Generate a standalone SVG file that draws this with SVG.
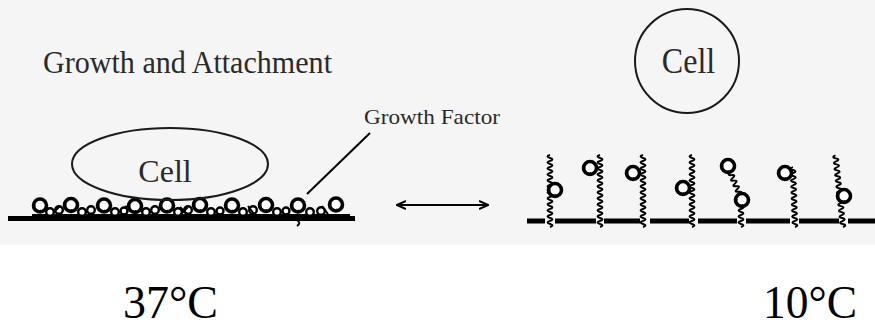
<svg xmlns="http://www.w3.org/2000/svg" width="875" height="329" viewBox="0 0 875 329">
  <style>
    .lbl { font-family: "Liberation Serif", "Times New Roman", serif; fill: #2a2a2a; }
    .temp { font-family: "Liberation Serif", "Times New Roman", serif; fill: #000; font-size: 46px; }
    .outline { fill: none; stroke: #1a1a1a; stroke-width: 2; }
    .ball { fill: #fff; stroke: #000; stroke-width: 3.6; }
    .bump { fill: #fff; stroke: #000; stroke-width: 2.4; }
    .chain { fill: none; stroke: #000; stroke-width: 1.9; }
    .base { stroke: #000; stroke-width: 5; }
    .thin { fill: none; stroke: #000; stroke-width: 2; }
    .shade { fill: none; stroke: #000; stroke-width: 2.2; }
  </style>
  <defs>
    <!-- wavy polymer chain, drawn upward from its anchor point -->
    <path id="w72" d="M0,0 q5,-1.5 0,-3 q-5,-1.5 0,-3 q5,-1.5 0,-3 q-5,-1.5 0,-3 q5,-1.5 0,-3 q-5,-1.5 0,-3 q5,-1.5 0,-3 q-5,-1.5 0,-3 q5,-1.5 0,-3 q-5,-1.5 0,-3 q5,-1.5 0,-3 q-5,-1.5 0,-3 q5,-1.5 0,-3 q-5,-1.5 0,-3 q5,-1.5 0,-3 q-5,-1.5 0,-3 q5,-1.5 0,-3 q-5,-1.5 0,-3 q5,-1.5 0,-3 q-5,-1.5 0,-3 q5,-1.5 0,-3 q-5,-1.5 0,-3 q5,-1.5 0,-3 q-5,-1.5 0,-3"/>
    <path id="w60" d="M0,0 q5,-1.5 0,-3 q-5,-1.5 0,-3 q5,-1.5 0,-3 q-5,-1.5 0,-3 q5,-1.5 0,-3 q-5,-1.5 0,-3 q5,-1.5 0,-3 q-5,-1.5 0,-3 q5,-1.5 0,-3 q-5,-1.5 0,-3 q5,-1.5 0,-3 q-5,-1.5 0,-3 q5,-1.5 0,-3 q-5,-1.5 0,-3 q5,-1.5 0,-3 q-5,-1.5 0,-3 q5,-1.5 0,-3 q-5,-1.5 0,-3 q5,-1.5 0,-3 q-5,-1.5 0,-3"/>
    <path id="w30" d="M0,0 q5,-1.5 0,-3 q-5,-1.5 0,-3 q5,-1.5 0,-3 q-5,-1.5 0,-3 q5,-1.5 0,-3 q-5,-1.5 0,-3 q5,-1.5 0,-3 q-5,-1.5 0,-3 q5,-1.5 0,-3 q-5,-1.5 0,-3"/>
    <path id="w24" d="M0,0 q5,-1.5 0,-3 q-5,-1.5 0,-3 q5,-1.5 0,-3 q-5,-1.5 0,-3 q5,-1.5 0,-3 q-5,-1.5 0,-3 q5,-1.5 0,-3 q-5,-1.5 0,-3"/>
    <!-- bead with a darker lower-left rim -->
    <g id="bead">
      <circle class="ball" cx="0" cy="0" r="6.5"/>
      <path class="shade" d="M-5.5,-1.5 A5,5 0 0 0 1.5,5"/>
    </g>
    <marker id="tip" viewBox="0 0 10 10" refX="9" refY="5" markerWidth="5" markerHeight="5" orient="auto-start-reverse" markerUnits="strokeWidth">
      <path d="M0,1 L9,5 L0,9" fill="none" stroke="#000" stroke-width="2"/>
    </marker>
  </defs>

  <!-- scanned panel background -->
  <rect x="0" y="0" width="875" height="245" fill="#f5f5f5"/>

  <text class="lbl" x="43" y="73" font-size="31" textLength="289" lengthAdjust="spacingAndGlyphs">Growth and Attachment</text>

  <!-- attached state at 37°C -->
  <g id="surface-37">
    <line class="base" x1="8" y1="218.5" x2="355" y2="218.5"/>
    <line class="thin" x1="32" y1="215" x2="350" y2="215" stroke-width="2.5"/>
    <g>
      <circle class="bump" cx="50" cy="212" r="3.8"/>
      <circle class="bump" cx="59" cy="210" r="3.8"/>
      <circle class="bump" cx="82" cy="212" r="3.8"/>
      <circle class="bump" cx="91" cy="210" r="3.8"/>
      <circle class="bump" cx="115" cy="212" r="3.8"/>
      <circle class="bump" cx="124" cy="211" r="3.5"/>
      <circle class="bump" cx="146" cy="212" r="3.8"/>
      <circle class="bump" cx="155" cy="210" r="3.8"/>
      <circle class="bump" cx="178" cy="212" r="3.8"/>
      <circle class="bump" cx="188" cy="210" r="3.8"/>
      <circle class="bump" cx="211" cy="212" r="3.8"/>
      <circle class="bump" cx="220" cy="211" r="3.5"/>
      <circle class="bump" cx="243" cy="212" r="3.8"/>
      <circle class="bump" cx="253" cy="210" r="3.8"/>
      <circle class="bump" cx="277" cy="212" r="3.8"/>
      <circle class="bump" cx="286" cy="211" r="3.5"/>
      <circle class="bump" cx="310" cy="212" r="3.8"/>
      <circle class="bump" cx="321" cy="211" r="3.8"/>
      <path class="thin" d="M180,207 l8,8 M188,207 l-8,8 M248,206 l6,8 M322,206 l6,8 M125,206 l6,4 M60,206 l-5,5"/>
      <path class="thin" d="M298,214 q-4,4 0,7 q3,2 -1,5"/>
    </g>
    <g>
      <use href="#bead" x="40" y="205.5"/>
      <use href="#bead" x="71" y="205"/>
      <use href="#bead" x="104" y="205.5"/>
      <use href="#bead" x="135" y="206"/>
      <use href="#bead" x="167" y="205.5"/>
      <use href="#bead" x="200" y="205"/>
      <use href="#bead" x="232" y="205.5"/>
      <use href="#bead" x="266" y="205"/>
      <use href="#bead" x="298" y="205.5"/>
      <use href="#bead" x="336" y="204.5"/>
    </g>
  </g>

  <g id="cell-attached">
    <ellipse class="outline" cx="170" cy="164" rx="98" ry="36"/>
    <text class="lbl" x="165" y="182" font-size="32" text-anchor="middle">Cell</text>
  </g>

  <g id="growth-factor-label">
    <text class="lbl" x="364" y="124" font-size="21" textLength="136" lengthAdjust="spacingAndGlyphs">Growth Factor</text>
  </g>

  <!-- detached state at 10°C -->
  <g id="cell-detached">
    <circle class="outline" cx="687" cy="61" r="52"/>
    <text class="lbl" transform="translate(688.5,73) scale(1,1.15)" font-size="32" text-anchor="middle">Cell</text>
  </g>

  <g id="surface-10">
    <path class="base" stroke-width="4.5" d="M527,221 H545 M555,221 H596 M604,221 H640 M650,221 H689 M698,221 H737 M746,221 H790 M799,221 H839 M848,221 H875"/>
    <use href="#w72" class="chain" transform="translate(550,227)"/>
    <use href="#w72" class="chain" transform="translate(600,227)"/>
    <use href="#w72" class="chain" transform="translate(643,227)"/>
    <use href="#w72" class="chain" transform="translate(692,227)"/>
    <use href="#w24" class="chain" transform="translate(741,227)"/>
    <use href="#w30" class="chain" transform="translate(742,200) rotate(-23)"/>
    <use href="#w60" class="chain" transform="translate(795,227) rotate(-2)"/>
    <use href="#w72" class="chain" transform="translate(843,227) rotate(-6)"/>
    <use href="#bead" x="555" y="190"/>
    <use href="#bead" x="590" y="168"/>
    <use href="#bead" x="633" y="173"/>
    <use href="#bead" x="683" y="188"/>
    <use href="#bead" x="728" y="166"/>
    <use href="#bead" x="742" y="200"/>
    <use href="#bead" x="785" y="173"/>
    <use href="#bead" x="844" y="196"/>
  </g>

  <g id="connectors">
    <line class="thin" x1="370" y1="133" x2="307" y2="194"/>
    <line class="thin" x1="397" y1="205" x2="488" y2="205" marker-start="url(#tip)" marker-end="url(#tip)"/>
  </g>

  <text class="temp" x="123" y="318" textLength="95" lengthAdjust="spacingAndGlyphs">37°C</text>
  <text class="temp" x="763" y="318" textLength="94" lengthAdjust="spacingAndGlyphs">10°C</text>
</svg>
